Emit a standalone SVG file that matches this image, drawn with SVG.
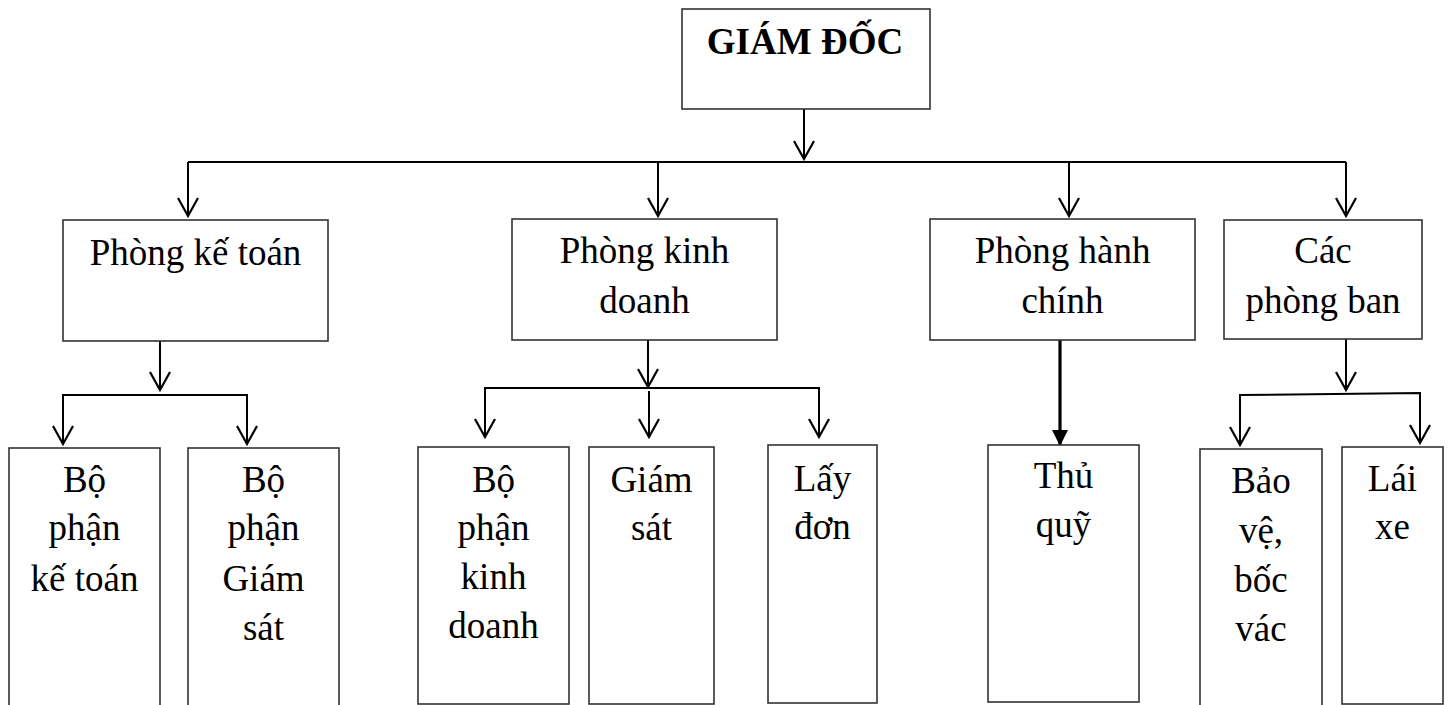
<svg xmlns="http://www.w3.org/2000/svg" width="1450" height="705" viewBox="0 0 1450 705">
<style>
.box{fill:#fff;stroke:#333;stroke-width:1.6}
.t{font-family:"Liberation Serif","Times New Roman",serif;font-size:37px;fill:#000;text-anchor:middle}
.b{font-weight:bold}
.c{fill:none;stroke:#000;stroke-width:2}
.h{fill:none;stroke:#000;stroke-width:3.2}
</style>
<defs>
<marker id="v" markerUnits="userSpaceOnUse" markerWidth="24" markerHeight="24" orient="auto" refX="0" refY="0" overflow="visible">
<path d="M-18,-10 L0,0 L-18,10" fill="none" stroke="#000" stroke-width="2.2"/>
</marker>
<marker id="f" markerUnits="userSpaceOnUse" markerWidth="24" markerHeight="24" orient="auto" refX="0" refY="0" overflow="visible">
<path d="M-16,-8 L0,0 L-16,8 Z" fill="#000"/>
</marker>
</defs>
<rect width="1450" height="705" fill="#fff"/>
<g id="connectors">
<line class="c" x1="804" y1="109" x2="804" y2="159" marker-end="url(#v)"/>
<line class="c" x1="188" y1="162" x2="1346" y2="162"/>
<line class="c" x1="188" y1="162" x2="188" y2="216" marker-end="url(#v)"/>
<line class="c" x1="658" y1="162" x2="658" y2="216" marker-end="url(#v)"/>
<line class="c" x1="1069" y1="162" x2="1069" y2="216" marker-end="url(#v)"/>
<line class="c" x1="1346" y1="162" x2="1346" y2="216" marker-end="url(#v)"/>
<line class="c" x1="160" y1="341" x2="160" y2="390" marker-end="url(#v)"/>
<polyline class="c" points="63,444 63,395 247,395 247,444"/>
<line class="c" x1="63" y1="420" x2="63" y2="444" marker-end="url(#v)"/>
<line class="c" x1="247" y1="420" x2="247" y2="444" marker-end="url(#v)"/>
<line class="c" x1="648" y1="340" x2="648" y2="387" marker-end="url(#v)"/>
<polyline class="c" points="485,437 485,388 819,388 819,437"/>
<line class="c" x1="485" y1="420" x2="485" y2="437" marker-end="url(#v)"/>
<line class="c" x1="649" y1="391" x2="649" y2="437" marker-end="url(#v)"/>
<line class="c" x1="819" y1="420" x2="819" y2="437" marker-end="url(#v)"/>
<line class="h" x1="1060" y1="340" x2="1060" y2="446" marker-end="url(#f)"/>
<line class="c" x1="1346" y1="339" x2="1346" y2="390" marker-end="url(#v)"/>
<polyline class="c" points="1240,445 1240,395 1420,393 1420,443"/>
<line class="c" x1="1240" y1="420" x2="1240" y2="445" marker-end="url(#v)"/>
<line class="c" x1="1420" y1="420" x2="1420" y2="443" marker-end="url(#v)"/>
</g>
<g id="giam-doc">
<rect class="box" x="682" y="9" width="248" height="100"/>
<text class="t b" x="805" y="54">GIÁM ĐỐC</text>
</g>
<g id="phong-ke-toan">
<rect class="box" x="63" y="220" width="265" height="121"/>
<text class="t" x="195.5" y="265">Phòng kế toán</text>
</g>
<g id="phong-kinh-doanh">
<rect class="box" x="512" y="219" width="265" height="121"/>
<text class="t" x="644.5" y="263">Phòng kinh</text>
<text class="t" x="644.5" y="313">doanh</text>
</g>
<g id="phong-hanh-chinh">
<rect class="box" x="930" y="219" width="265" height="121"/>
<text class="t" x="1062.5" y="263">Phòng hành</text>
<text class="t" x="1062.5" y="313">chính</text>
</g>
<g id="cac-phong-ban">
<rect class="box" x="1224" y="220" width="198" height="119"/>
<text class="t" x="1323" y="263">Các</text>
<text class="t" x="1323" y="313">phòng ban</text>
</g>
<g id="bp-ke-toan">
<rect class="box" x="9" y="448" width="151" height="262"/>
<text class="t" x="84.5" y="492">Bộ</text>
<text class="t" x="84.5" y="540">phận</text>
<text class="t" x="84.5" y="591">kế toán</text>
</g>
<g id="bp-giam-sat">
<rect class="box" x="188" y="448" width="151" height="262"/>
<text class="t" x="263.5" y="492">Bộ</text>
<text class="t" x="263.5" y="540">phận</text>
<text class="t" x="263.5" y="591">Giám</text>
<text class="t" x="263.5" y="640">sát</text>
</g>
<g id="bp-kinh-doanh">
<rect class="box" x="418" y="447" width="151" height="257"/>
<text class="t" x="493.5" y="492">Bộ</text>
<text class="t" x="493.5" y="540">phận</text>
<text class="t" x="493.5" y="589">kinh</text>
<text class="t" x="493.5" y="638">doanh</text>
</g>
<g id="giam-sat">
<rect class="box" x="589" y="447" width="125" height="257"/>
<text class="t" x="651.5" y="492">Giám</text>
<text class="t" x="651.5" y="540">sát</text>
</g>
<g id="lay-don">
<rect class="box" x="768" y="445" width="109" height="258"/>
<text class="t" x="822.5" y="491">Lấy</text>
<text class="t" x="822.5" y="539">đơn</text>
</g>
<g id="thu-quy">
<rect class="box" x="988" y="445" width="151" height="257"/>
<text class="t" x="1063.5" y="488">Thủ</text>
<text class="t" x="1063.5" y="537">quỹ</text>
</g>
<g id="bao-ve">
<rect class="box" x="1200" y="449" width="122" height="262"/>
<text class="t" x="1261" y="493">Bảo</text>
<text class="t" x="1261" y="543">vệ,</text>
<text class="t" x="1261" y="592">bốc</text>
<text class="t" x="1261" y="641">vác</text>
</g>
<g id="lai-xe">
<rect class="box" x="1342" y="447" width="101" height="257"/>
<text class="t" x="1392.5" y="491">Lái</text>
<text class="t" x="1392.5" y="539">xe</text>
</g>
</svg>
